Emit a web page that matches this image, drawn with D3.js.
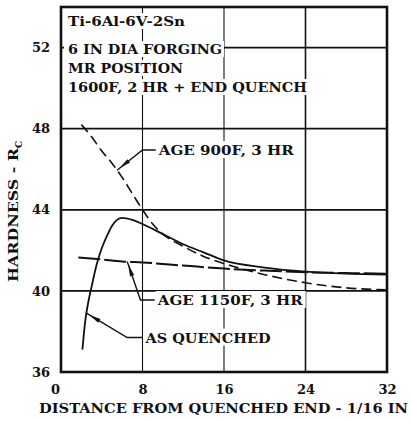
<!DOCTYPE html>
<html>
<head>
<meta charset="utf-8">
<script src="https://cdn.jsdelivr.net/npm/d3@7"></script>
<style>
  body { margin: 0; background: #fff; }
  text { font-family: "DejaVu Serif", serif; font-weight: bold; fill: #111; }
</style>
</head>
<body>
<script>
// hardness vs distance from quenched end (1/16 in)
const xTicks = [0, 8, 16, 24, 32];
const yTicks = [36, 40, 44, 48, 52];

const asQuenched = [[2.1, 37.1], [2.4, 38.6], [2.7, 39.5], [3, 40.2], [3.5, 41.3], [4, 42.1],
  [4.5, 42.7], [5, 43.2], [5.5, 43.5], [6, 43.6], [7, 43.5], [8, 43.3], [10, 42.8], [12, 42.3],
  [14, 41.9], [16, 41.5], [20, 41.15], [24, 40.95], [28, 40.85], [32, 40.8]];

const age900 = [[2, 48.2], [3, 47.6], [4, 46.9], [5, 46.3], [6, 45.6], [7, 44.8], [8, 44.0],
  [9, 43.3], [10, 42.8], [12, 42.2], [14, 41.7], [16, 41.35], [20, 40.8], [24, 40.4],
  [28, 40.15], [32, 40.05]];

const age1150 = [[1.7, 41.65], [4, 41.55], [6, 41.45], [8, 41.4], [12, 41.25], [16, 41.1],
  [20, 41.0], [24, 40.92], [28, 40.88], [32, 40.85]];

const headerLines = ["Ti-6Al-6V-2Sn", "6 IN DIA FORGING", "MR POSITION", "1600F, 2 HR + END QUENCH"];

// callouts: label, point on curve, elbow, end of leader (data units)
const callouts = [
  { label: "AGE 900F, 3 HR", at: [5.5, 45.95], elbow: [8.0, 46.95], end: [9.3, 46.95] },
  { label: "AGE 1150F, 3 HR", at: [6.5, 41.45], elbow: [7.8, 39.55], end: [9.2, 39.55] },
  { label: "AS QUENCHED", at: [2.5, 38.9], elbow: [6.5, 37.7], end: [8.0, 37.7] }
];

const width = 412, height = 421;
const svg = d3.select("body").append("svg")
  .attr("width", width)
  .attr("height", height);

const x = d3.scaleLinear().domain([0, 32]).range([61, 387]);
const y = d3.scaleLinear().domain([36, 54]).range([372, 7]);

// grid
svg.append("g").selectAll("line")
  .data(yTicks.slice(1))
  .enter().append("line")
  .attr("x1", x(0)).attr("x2", x(32))
  .attr("y1", d => y(d)).attr("y2", d => y(d))
  .attr("stroke", "#111").attr("stroke-width", 1.8);

svg.append("g").selectAll("line")
  .data(xTicks.slice(1, -1))
  .enter().append("line")
  .attr("x1", d => x(d)).attr("x2", d => x(d))
  .attr("y1", y(54)).attr("y2", y(36))
  .attr("stroke", "#111").attr("stroke-width", d => d === 24 ? 1.6 : 1.1);

// axes (labels only)
const xAxis = svg.append("g")
  .attr("transform", `translate(0,${y(36)})`)
  .call(d3.axisBottom(x).tickValues(xTicks).tickSize(0).tickPadding(13));
xAxis.select(".domain").remove();
xAxis.selectAll("text").style("font-size", "13px").attr("dx", d => d === 0 ? -6 : 0);

const yAxis = svg.append("g")
  .attr("transform", `translate(${x(0)},0)`)
  .call(d3.axisLeft(y).tickValues(yTicks).tickSize(0).tickPadding(11));
yAxis.select(".domain").remove();
yAxis.selectAll("text").style("font-size", "13px");

svg.append("text")
  .attr("x", 39).attr("y", 413)
  .attr("textLength", 369).attr("lengthAdjust", "spacingAndGlyphs")
  .style("font-size", "13px")
  .text("DISTANCE FROM QUENCHED END - 1/16 IN");

const yTitle = svg.append("text")
  .attr("transform", "translate(18,282) rotate(-90)")
  .style("font-size", "13px");
yTitle.append("tspan")
  .attr("textLength", 134).attr("lengthAdjust", "spacingAndGlyphs")
  .text("HARDNESS - R");
yTitle.append("tspan").attr("dy", 4).style("font-size", "9px").text("C");

// header block, each line knocks out the grid behind it
const header = svg.append("g");
const headerWidths = [117, 154, 115, 239];
const headerBase = [26, 54, 73, 92];
headerLines.forEach((t, i) => {
  const by = headerBase[i];
  header.append("rect")
    .attr("x", 64).attr("y", by - 13)
    .attr("width", headerWidths[i] + 6).attr("height", 16)
    .attr("fill", "#fff");
  header.append("text")
    .attr("x", 68).attr("y", by)
    .attr("textLength", headerWidths[i]).attr("lengthAdjust", "spacingAndGlyphs")
    .style("font-size", "13px")
    .text(t);
});

// curves
const line = d3.line()
  .x(d => x(d[0]))
  .y(d => y(d[1]))
  .curve(d3.curveMonotoneX);

svg.append("path").datum(asQuenched)
  .attr("d", line).attr("fill", "none")
  .attr("stroke", "#111").attr("stroke-width", 1.8);

svg.append("path").datum(age900)
  .attr("d", line).attr("fill", "none")
  .attr("stroke", "#111").attr("stroke-width", 1.6)
  .attr("stroke-dasharray", "10,5");

svg.append("path").datum(age1150)
  .attr("d", line).attr("fill", "none")
  .attr("stroke", "#111").attr("stroke-width", 2)
  .attr("stroke-dasharray", "22,4");

// callout leaders, arrow wedge pointing at the curve
const labelWidths = [135, 145, 125];
callouts.forEach((c, i) => {
  const p0 = [x(c.at[0]), y(c.at[1])];
  const p1 = [x(c.elbow[0]), y(c.elbow[1])];
  const p2 = [x(c.end[0]), y(c.end[1])];
  svg.append("path")
    .attr("d", d3.line()([p0, p1, p2]))
    .attr("fill", "none").attr("stroke", "#111").attr("stroke-width", 1.4);

  const dx = p1[0] - p0[0], dy = p1[1] - p0[1];
  const len = Math.hypot(dx, dy);
  const ux = dx / len, uy = dy / len;
  const tip = [p0[0] + ux * 3, p0[1] + uy * 3];
  const base = [p0[0] + ux * 15, p0[1] + uy * 15];
  svg.append("path")
    .attr("d", d3.line()([tip, [base[0] - uy * 2.2, base[1] + ux * 2.2], [base[0] + uy * 2.2, base[1] - ux * 2.2]]) + "Z")
    .attr("fill", "#111");

  svg.append("rect")
    .attr("x", p2[0] + 1).attr("y", p2[1] - 9)
    .attr("width", labelWidths[i] + 5).attr("height", 17)
    .attr("fill", "#fff");
  svg.append("text")
    .attr("x", p2[0] + 3).attr("y", p2[1] + 5)
    .attr("textLength", labelWidths[i]).attr("lengthAdjust", "spacingAndGlyphs")
    .style("font-size", "13px")
    .text(c.label);
});

// frame
svg.append("rect")
  .attr("x", x(0)).attr("y", y(54))
  .attr("width", x(32) - x(0)).attr("height", y(36) - y(54))
  .attr("fill", "none").attr("stroke", "#111").attr("stroke-width", 2.6);
</script>
</body>
</html>
